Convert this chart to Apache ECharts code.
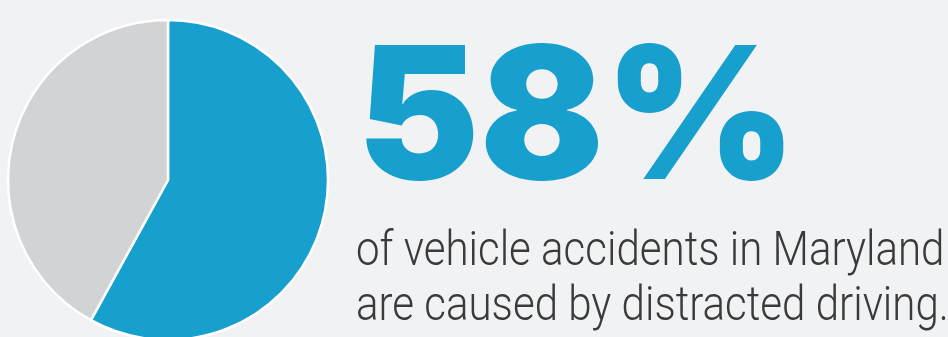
<!DOCTYPE html>
<html><head><meta charset="utf-8">
<script src="https://cdn.jsdelivr.net/npm/echarts@6/dist/echarts.min.js"></script>
<style>html,body{margin:0;padding:0;background:#f1f2f4}#c{width:948px;height:337px}</style>
</head><body><div id="c"></div>
<script>
const categories = ['Distracted driving', 'Other causes'];
const values = [58, 42];
const headline = '58%';
const captionLines = ['of vehicle accidents in Maryland', 'are caused by distracted driving.'];

const colors = ['#179fce', '#d2d3d5'];
const chart = echarts.init(document.getElementById('c'), null, {renderer: 'canvas'});
chart.setOption({
  backgroundColor: '#f1f2f4',
  animation: false,
  series: [{
    type: 'pie',
    center: [168, 180],
    radius: 160,
    startAngle: 90,
    clockwise: true,
    label: {show: false},
    labelLine: {show: false},
    itemStyle: {borderColor: '#ffffff', borderWidth: 2.5},
    emphasis: {disabled: true},
    data: categories.map((c, i) => ({name: c, value: values[i], itemStyle: {color: colors[i]}}))
  }],
  graphic: [
    {type: 'text', x: 357, y: 124, scaleX: 1, style: {text: headline, font: '900 184px Inter', fill: '#179fce', align: 'left', verticalAlign: 'middle'}},
    {type: 'text', x: 356, y: 253, scaleX: 0.858, style: {text: captionLines[0], font: '300 49px Roboto', fill: '#3a3a3a', align: 'left', verticalAlign: 'middle'}},
    {type: 'text', x: 356, y: 308, scaleX: 0.858, style: {text: captionLines[1], font: '300 49px Roboto', fill: '#3a3a3a', align: 'left', verticalAlign: 'middle'}}
  ]
});
</script></body></html>
